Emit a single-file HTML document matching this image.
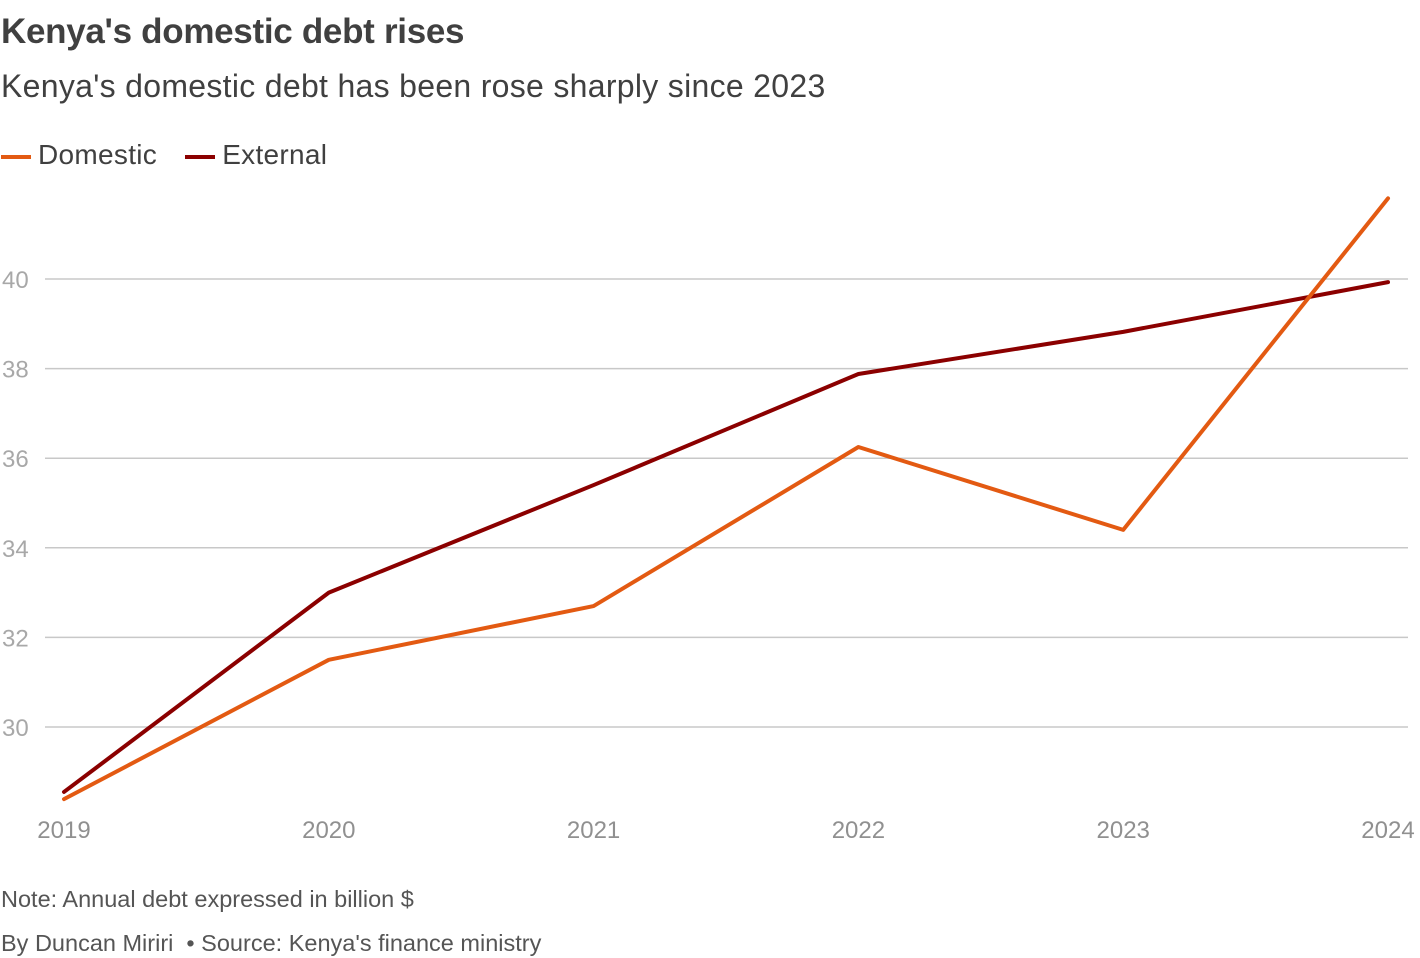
<!DOCTYPE html>
<html><head><meta charset="utf-8"><style>
body{margin:0;width:1420px;height:958px;background:#fff;font-family:"Liberation Sans",sans-serif;overflow:hidden;position:relative}
.t{position:absolute;left:1px;white-space:nowrap}
</style></head><body>
<div class="t" style="top:12px;font-size:35px;font-weight:bold;color:#404040;letter-spacing:-0.3px">Kenya's domestic debt rises</div>
<div class="t" style="top:68px;font-size:32px;color:#404040;letter-spacing:0.3px">Kenya's domestic debt has been rose sharply since 2023</div>
<div class="t" style="top:139px;font-size:28px;color:#404040;letter-spacing:0.3px">
<span><span style="display:inline-block;width:30px;height:4px;background:#e35a12;vertical-align:middle;margin-right:7px"></span>Domestic</span>
<span style="margin-left:20px"><span style="display:inline-block;width:30px;height:4px;background:#8b0000;vertical-align:middle;margin-right:7px"></span>External</span>
</div>
<svg id="chart" width="1420" height="958" style="position:absolute;left:0;top:0"></svg>
<div class="t" style="top:886px;font-size:23.5px;color:#555">Note: Annual debt expressed in billion $</div>
<div class="t" style="top:930px;font-size:23.5px;color:#555">By Duncan Miriri &nbsp;• Source: Kenya's finance ministry</div>
<script>
const years=["2019","2020","2021","2022","2023","2024"];
const domestic=[28.39,31.5,32.7,36.25,34.4,41.8];
const external=[28.55,33.0,35.4,37.88,38.82,39.93];
const yTicks=[30,32,34,36,38,40];
const svg=document.getElementById('chart');
const NS="http://www.w3.org/2000/svg";
const x=i=>64+i*(1388-64)/(years.length-1);
const y=v=>727-(v-30)*(727-279)/10;
function mk(t,a){const e=document.createElementNS(NS,t);for(const k in a)e.setAttribute(k,a[k]);svg.appendChild(e);return e;}
yTicks.forEach(v=>{
 const l=mk('line',{x1:45,x2:1408,y1:y(v),y2:y(v),stroke:'#c8c8c8','stroke-width':1.5});
 
 
 const t=mk('text',{x:2,y:y(v)+9,'font-size':24,fill:'#a8a8a8','font-family':'Liberation Sans, sans-serif'});
 t.textContent=v;
 
 
});
years.forEach((yr,i)=>{
 const t=mk('text',{x:Math.min(x(i),1390),y:838,'font-size':24,fill:'#909090','text-anchor':'middle','font-family':'Liberation Sans, sans-serif'});
 t.textContent=yr;
 
 
});
function line(data,color,name){
 const p=mk('polyline',{points:data.map((v,i)=>x(i)+','+y(v)).join(' '),fill:'none',stroke:color,'stroke-width':4,'stroke-linejoin':'round','stroke-linecap':'round'});
 
 
}
line(external,'#8b0000','external-line');
line(domestic,'#e35a12','domestic-line');
</script>
</body></html>
